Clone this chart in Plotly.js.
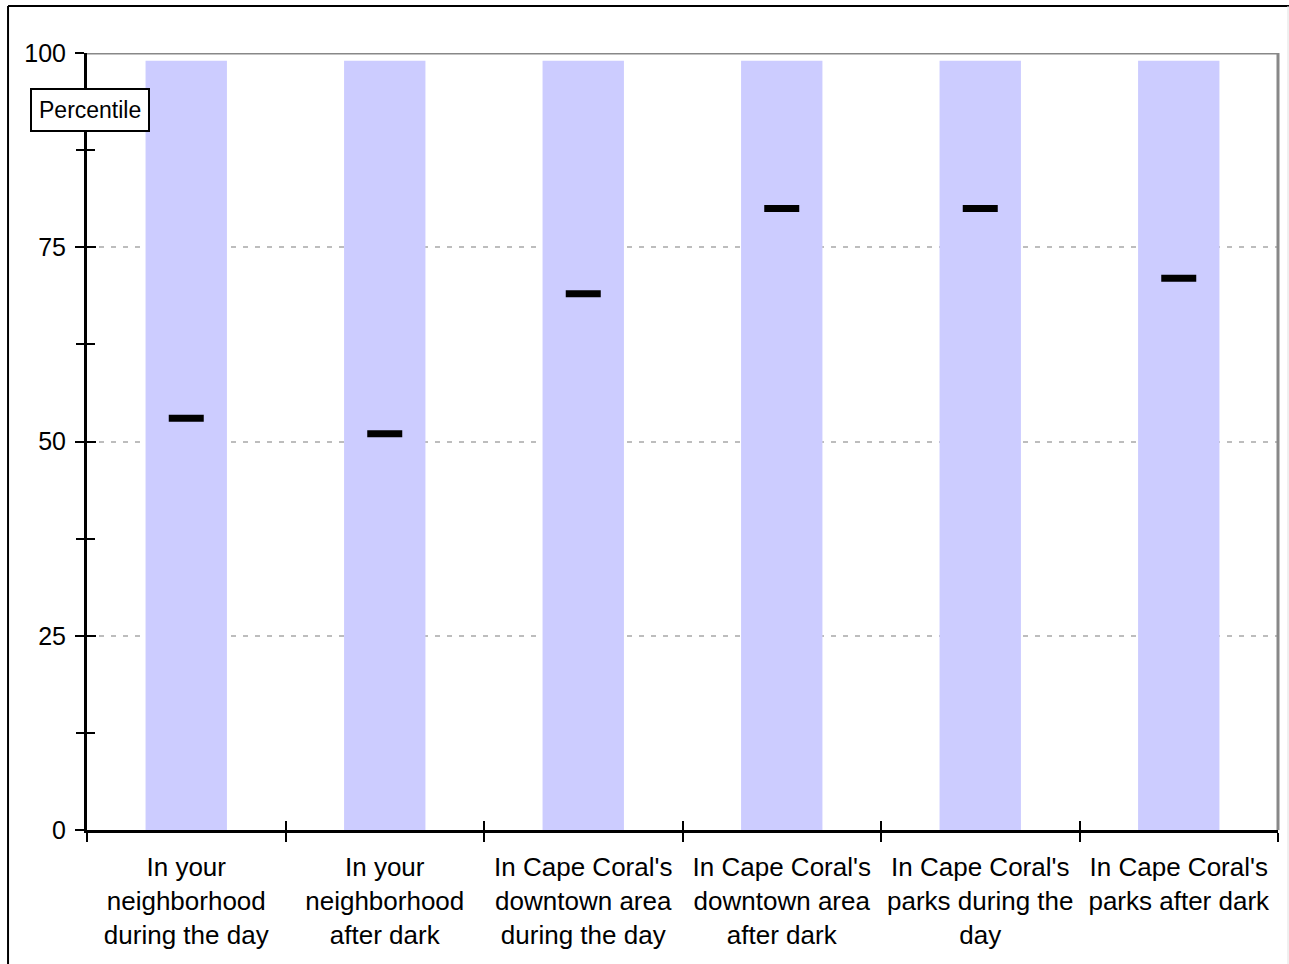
<!DOCTYPE html>
<html>
<head>
<meta charset="utf-8">
<script src="https://cdn.plot.ly/plotly-3.0.1.min.js"></script>
<style>html,body{margin:0;padding:0;background:#fff;}#chart{width:1289px;height:964px;}</style>
</head>
<body>
<div id="chart"></div>
<script>
const categories = [
  "In your<br>neighborhood<br>during the day",
  "In your<br>neighborhood<br>after dark",
  "In Cape Coral's<br>downtown area<br>during the day",
  "In Cape Coral's<br>downtown area<br>after dark",
  "In Cape Coral's<br>parks during the<br>day",
  "In Cape Coral's<br>parks after dark"
];
const rangeTop = [99, 99, 99, 99, 99, 99];
const percentile = [53, 51, 69, 80, 80, 71];
const yTickVals = [0, 25, 50, 75, 100];
const yTickText = ["0", "25", "50", "75", "100"];
const yTitle = "Percentile";

const font = {family: "Liberation Sans, Arial, sans-serif", color: "#000"};

const traces = [
  {
    type: "bar", x: categories, y: rangeTop, xaxis: "x", yaxis: "y",
    marker: {color: "#CCCCFF", line: {width: 0}}, width: 0.41,
    hoverinfo: "skip", showlegend: false
  },
  {
    type: "scatter", mode: "markers", x: categories, y: percentile, xaxis: "x2", yaxis: "y2",
    marker: {symbol: "line-ew", size: 25, color: "#000", line: {color: "#000", width: 7}},
    showlegend: false
  }
];

const commonX = {
  type: "category", categoryarray: categories, categoryorder: "array",
  range: [-0.5, 5.5], tickson: "boundaries", ticklen: 9, tickwidth: 2, tickcolor: "#000",
  showgrid: false, zeroline: false
};
const commonY = {
  range: [0, 100], tickmode: "array", tickvals: yTickVals, ticklen: 9, tickwidth: 2, tickcolor: "#000",
  zeroline: false,
  minor: {dtick: 12.5, tick0: 0, ticks: "", ticklen: 8, tickwidth: 2, tickcolor: "#000", showgrid: false}
};

const layout = {
  width: 1289, height: 964,
  margin: {l: 87, r: 11, t: 53, b: 134},
  paper_bgcolor: "#fff", plot_bgcolor: "#fff",
  font: Object.assign({size: 25}, font),
  showlegend: false,
  bargap: 0.59,
  xaxis: Object.assign({}, commonX, {
    ticks: "outside", showline: true, linecolor: "#000", linewidth: 3,
    tickfont: Object.assign({size: 26}, font), ticklabelstandoff: 12
  }),
  xaxis2: Object.assign({}, commonX, {
    overlaying: "x", anchor: "y2", side: "bottom", ticks: "inside",
    showticklabels: false, showline: false
  }),
  yaxis: Object.assign({}, commonY, {
    ticktext: yTickText, ticks: "outside",
    minor: Object.assign({}, commonY.minor, {ticks: "outside"}),
    showline: true, linecolor: "#000", linewidth: 3,
    showgrid: true, gridcolor: "#bdbdbd", gridwidth: 2, griddash: "5px,7px",
    tickfont: Object.assign({size: 25}, font), ticklabelstandoff: 4
  }),
  yaxis2: Object.assign({}, commonY, {
    overlaying: "y", anchor: "x2", side: "left", ticks: "inside",
    minor: Object.assign({}, commonY.minor, {ticks: "inside"}),
    showticklabels: false, showgrid: false, showline: false
  }),
  shapes: [
    {type: "line", xref: "paper", yref: "y", x0: 0, x1: 1, y0: 100, y1: 100, line: {color: "#888", width: 3}},
    {type: "line", xref: "paper", yref: "y", x0: 1, x1: 1, y0: 0, y1: 100, line: {color: "#888", width: 3}},
    {type: "line", xref: "paper", yref: "paper", x0: -0.0663, x1: -0.0663, y0: -0.18, y1: 1.0605, line: {color: "#000", width: 2}},
    {type: "line", xref: "paper", yref: "paper", x0: -0.0663, x1: 1.02, y0: 1.0605, y1: 1.0605, line: {color: "#000", width: 2}},
    {type: "line", xref: "paper", yref: "paper", x0: 1.0084, x1: 1.0084, y0: -0.18, y1: 1.0605, line: {color: "#e0e0e0", width: 1}}
  ],
  annotations: [
    {text: yTitle, xref: "paper", yref: "paper", x: 0.0025, y: 0.9266, xanchor: "center", yanchor: "middle",
     showarrow: false, font: Object.assign({size: 23}, font), bgcolor: "#fff",
     bordercolor: "#000", borderwidth: 2, borderpad: 7}
  ]
};

Plotly.newPlot("chart", traces, layout, {displayModeBar: false, staticPlot: true});
</script>
</body>
</html>
